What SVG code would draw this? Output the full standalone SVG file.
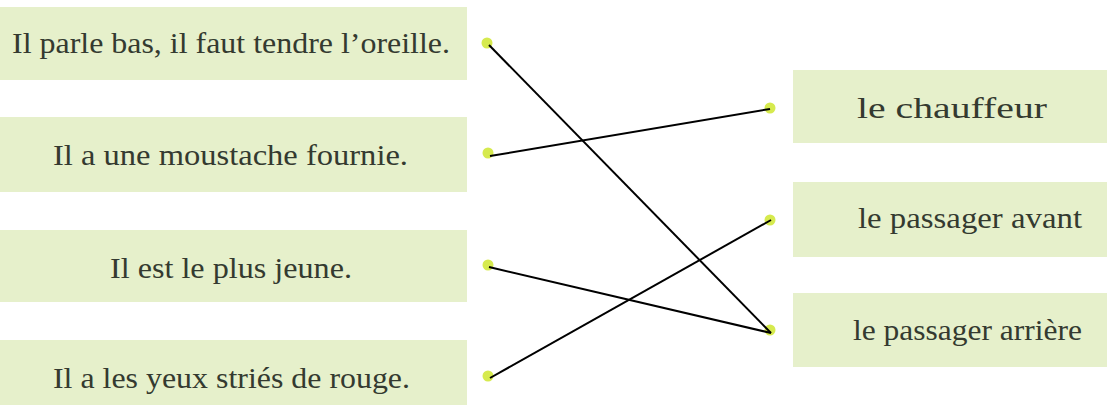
<svg xmlns="http://www.w3.org/2000/svg" width="1107" height="405" viewBox="0 0 1107 405">
<rect width="1107" height="405" fill="#ffffff"/>
<g id="left1"><rect fill="#e6f0cb" x="0" y="7" width="467" height="73"/><text font-family="Liberation Serif" font-size="29" fill="#343a30" x="12" y="53" textLength="438" lengthAdjust="spacingAndGlyphs">Il parle bas, il faut tendre l’oreille.</text></g>
<g id="left2"><rect fill="#e6f0cb" x="0" y="117" width="467" height="75"/><text font-family="Liberation Serif" font-size="29" fill="#343a30" x="53" y="165" textLength="355" lengthAdjust="spacingAndGlyphs">Il a une moustache fournie.</text></g>
<g id="left3"><rect fill="#e6f0cb" x="0" y="230" width="467" height="72"/><text font-family="Liberation Serif" font-size="29" fill="#343a30" x="110" y="278" textLength="242" lengthAdjust="spacingAndGlyphs">Il est le plus jeune.</text></g>
<g id="left4"><rect fill="#e6f0cb" x="0" y="340" width="467" height="65"/><text font-family="Liberation Serif" font-size="29" fill="#343a30" x="53" y="388" textLength="357" lengthAdjust="spacingAndGlyphs">Il a les yeux striés de rouge.</text></g>
<g id="right1"><rect fill="#e6f0cb" x="793" y="70" width="314" height="73"/><text font-family="Liberation Serif" font-size="29" fill="#343a30" x="857" y="118" textLength="190" lengthAdjust="spacingAndGlyphs">le chauffeur</text></g>
<g id="right2"><rect fill="#e6f0cb" x="793" y="182" width="314" height="75"/><text font-family="Liberation Serif" font-size="29" fill="#343a30" x="858" y="228" textLength="224" lengthAdjust="spacingAndGlyphs">le passager avant</text></g>
<g id="right3"><rect fill="#e6f0cb" x="793" y="293" width="314" height="74"/><text font-family="Liberation Serif" font-size="29" fill="#343a30" x="853" y="340" textLength="229" lengthAdjust="spacingAndGlyphs">le passager arrière</text></g>
<g id="dots" fill="#d6ea4e">
<circle cx="487" cy="43" r="5.5"/>
<circle cx="488" cy="153" r="5.5"/>
<circle cx="488" cy="265" r="5.5"/>
<circle cx="488" cy="376" r="5.5"/>
<circle cx="770" cy="108" r="5.5"/>
<circle cx="770" cy="220" r="5.5"/>
<circle cx="770" cy="330" r="5.5"/>
</g>
<g id="connectors" stroke="#000" stroke-width="2" fill="none">
<line x1="489" y1="45" x2="771" y2="333"/>
<line x1="490" y1="156" x2="770" y2="109"/>
<line x1="489" y1="267" x2="771" y2="333"/>
<line x1="490" y1="378" x2="771" y2="220"/>
</g>
</svg>
